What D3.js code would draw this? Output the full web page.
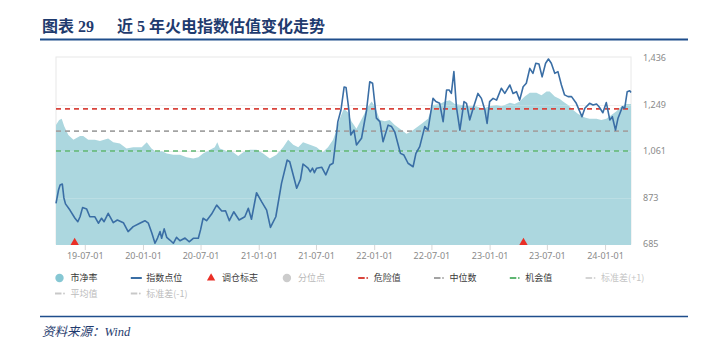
<!DOCTYPE html>
<html>
<head>
<meta charset="utf-8">
<script src="https://cdn.jsdelivr.net/npm/d3@7"></script>
<style>
  html, body { margin: 0; padding: 0; background: #fff; }
  svg { display: block; }
</style>
</head>
<body>
<svg id="chart" width="702" height="346"></svg>
<script>
// ---- data ----
// 市净率 (PB) of the thermal power index
const pbDates = [
  "2019-04-01","2019-04-11","2019-04-19","2019-04-27","2019-05-10","2019-05-26","2019-06-16","2019-06-26","2019-07-12","2019-08-02","2019-08-18","2019-09-13","2019-09-29","2019-10-20","2019-11-10","2019-12-01","2019-12-28",
  "2020-01-13","2020-01-28","2020-02-13","2020-02-29","2020-03-16","2020-04-06","2020-04-27","2020-05-18","2020-06-08","2020-06-24","2020-07-09","2020-07-31","2020-08-15","2020-08-23","2020-08-31","2020-09-21","2020-10-12","2020-10-28","2020-11-13","2020-12-04","2020-12-25",
  "2021-01-15","2021-02-05","2021-02-26","2021-03-19","2021-04-04","2021-04-20","2021-05-06","2021-05-21","2021-06-12","2021-07-03","2021-07-22","2021-08-08","2021-08-24","2021-09-04","2021-09-14","2021-09-27","2021-10-11","2021-10-21","2021-11-06","2021-11-27","2021-12-13","2021-12-24",
  "2022-01-03","2022-01-19","2022-02-04","2022-02-19","2022-03-07","2022-03-23","2022-04-13","2022-04-29","2022-05-15","2022-05-31","2022-06-20","2022-07-06","2022-07-27","2022-08-12","2022-08-28","2022-09-13","2022-10-04","2022-10-30","2022-11-20","2022-12-11",
  "2023-01-01","2023-01-23","2023-02-07","2023-02-18","2023-03-06","2023-03-21","2023-04-06","2023-04-22","2023-05-08","2023-05-29","2023-06-14","2023-06-30","2023-07-10","2023-07-26","2023-08-11","2023-08-21","2023-09-06","2023-09-22","2023-10-07","2023-10-29","2023-11-13","2023-12-05","2023-12-20",
  "2024-01-05","2024-01-21","2024-02-06","2024-02-22","2024-03-08","2024-03-23"
];
const pbValues = [
  1.46,1.50,1.51,1.45,1.38,1.34,1.37,1.37,1.34,1.34,1.33,1.35,1.32,1.31,1.27,1.28,1.28,
  1.32,1.27,1.24,1.25,1.23,1.22,1.22,1.20,1.19,1.20,1.23,1.26,1.28,1.32,1.27,1.25,1.24,1.21,1.24,1.26,1.26,
  1.23,1.19,1.22,1.28,1.34,1.30,1.28,1.32,1.30,1.28,1.24,1.28,1.34,1.42,1.51,1.59,1.56,1.49,1.43,1.53,1.61,1.65,
  1.61,1.50,1.49,1.50,1.46,1.43,1.39,1.41,1.44,1.47,1.51,1.62,1.63,1.65,1.66,1.63,1.62,1.61,1.61,1.59,
  1.61,1.62,1.61,1.62,1.64,1.63,1.65,1.69,1.72,1.72,1.70,1.73,1.73,1.69,1.67,1.65,1.62,1.58,1.55,1.52,1.51,1.51,1.50,
  1.51,1.54,1.57,1.61,1.63,1.63
];

// 指数点位 (index level)
const indexDates = [
  "2019-04-01","2019-04-09","2019-04-14","2019-04-21","2019-04-26","2019-05-01","2019-05-15","2019-05-31","2019-06-09","2019-06-16","2019-06-24","2019-07-07","2019-07-17","2019-08-02","2019-08-13","2019-08-23","2019-08-31","2019-09-13","2019-09-29","2019-10-12","2019-10-31","2019-11-15","2019-12-01","2019-12-22",
  "2020-01-07","2020-01-18","2020-01-29","2020-02-08","2020-02-16","2020-02-24","2020-02-29","2020-03-08","2020-03-16","2020-03-26","2020-04-06","2020-04-16","2020-04-27","2020-05-13","2020-05-26","2020-06-08","2020-06-24","2020-07-01","2020-07-09","2020-07-20","2020-08-05","2020-08-21","2020-09-06","2020-09-18","2020-09-30","2020-10-14","2020-10-31","2020-11-18","2020-11-29","2020-12-09","2020-12-25",
  "2021-01-10","2021-01-26","2021-02-07","2021-02-24","2021-03-14","2021-04-01","2021-04-09","2021-05-01","2021-05-13","2021-05-21","2021-06-06","2021-06-13","2021-06-20","2021-06-26","2021-07-03","2021-07-19","2021-08-01","2021-08-14","2021-08-24","2021-08-31","2021-09-08","2021-09-18","2021-09-28","2021-10-04","2021-10-13","2021-10-19","2021-10-29","2021-11-06","2021-11-22","2021-12-08","2021-12-18","2021-12-27",
  "2022-01-08","2022-01-19","2022-01-29","2022-02-14","2022-02-25","2022-03-07","2022-03-25","2022-04-05","2022-04-18","2022-05-04","2022-05-13","2022-05-25","2022-06-10","2022-06-20","2022-07-06","2022-07-15","2022-07-27","2022-08-07","2022-08-18","2022-08-26","2022-09-02","2022-09-10","2022-09-18","2022-09-29","2022-10-12","2022-10-20","2022-10-30","2022-11-10","2022-11-25","2022-12-06","2022-12-17","2022-12-24",
  "2023-01-01","2023-01-12","2023-01-23","2023-02-07","2023-02-18","2023-03-06","2023-03-16","2023-03-27","2023-04-06","2023-04-17","2023-04-27","2023-05-08","2023-05-18","2023-05-27","2023-06-06","2023-06-16","2023-06-27","2023-07-06","2023-07-15","2023-07-26","2023-08-05","2023-08-16","2023-08-26","2023-09-06","2023-09-17","2023-10-02","2023-10-20","2023-10-29","2023-11-13","2023-11-24","2023-12-05","2023-12-13","2023-12-25",
  "2024-01-05","2024-01-16","2024-01-24","2024-02-03","2024-02-11","2024-02-25","2024-03-03","2024-03-11","2024-03-19","2024-03-23"
];
const indexValues = [
  849,903,923,927,871,847,822,789,775,795,832,826,795,795,769,789,775,809,771,782,771,735,755,769,
  779,769,729,688,709,735,708,746,712,701,688,712,698,709,694,708,708,742,789,779,806,842,818,819,779,815,782,795,829,785,892,
  856,822,752,795,930,1024,1017,910,946,1008,991,976,991,973,991,995,964,1004,1011,1085,1178,1226,1319,1317,1226,1125,1145,1085,1112,1226,1340,1334,
  1193,1179,1098,1165,1159,1138,1051,1044,1011,997,1051,1078,1159,1145,1273,1260,1253,1179,1307,1307,1293,1381,1239,1145,1260,1253,1186,1233,1293,1273,1226,1172,
  1260,1273,1266,1314,1293,1327,1293,1300,1266,1320,1334,1394,1374,1415,1412,1360,1415,1432,1415,1374,1381,1327,1287,1280,1280,1253,1199,1233,1253,1246,1250,1239,1215,
  1256,1186,1199,1145,1193,1239,1233,1300,1304,1297
];

// 调仓标志 (rebalance signals)
const signalDates = ["2019-05-30", "2023-04-18"];

// PB reference levels: 危险值 / 中位数 / 机会值
const refNames  = ["危险值", "中位数", "机会值"];
const refValues = [1.59, 1.41, 1.25];

// axes
const xTickDates  = ["2019-07-01","2020-01-01","2020-07-01","2021-01-01","2021-07-01","2022-01-01","2022-07-01","2023-01-01","2023-07-01","2024-01-01"];
const xTickLabels = ["19-07-01","20-01-01","20-07-01","21-01-01","21-07-01","22-01-01","22-07-01","23-01-01","23-07-01","24-01-01"];
const yTickValues = [685, 872.75, 1060.5, 1248.25, 1436];
const yTickLabels = ["685", "873", "1,061", "1,249", "1,436"];
const xDomain = ["2019-04-01", "2024-03-23"];
const indexDomain = [685, 1436];
const pbDomain = [0.5, 2.0];

// legend entries
const legendRow1 = ["市净率", "指数点位", "调仓标志", "分位点", "危险值", "中位数", "机会值", "标准差(+1)"];
const legendRow2 = ["平均值", "标准差(-1)"];

// ---- drawing ----
const parse = d3.timeParse("%Y-%m-%d");
const svg = d3.select("#chart");

const plot = { left: 56, right: 631, top: 58, bottom: 244 };

const x = d3.scaleTime().domain(xDomain.map(parse)).range([plot.left, plot.right]);
const yIdx = d3.scaleLinear().domain(indexDomain).range([plot.bottom, plot.top]);
const yPb = d3.scaleLinear().domain(pbDomain).range([plot.bottom, plot.top]);

const pbSeries = pbDates.map((d, i) => ({ date: parse(d), v: pbValues[i] }));
const idxSeries = indexDates.map((d, i) => ({ date: parse(d), v: indexValues[i] }));

const NAVY = "#1f3b6e";
const CJK = "'Noto Sans CJK SC', 'Noto Sans', sans-serif";

// title
const title = svg.append("text")
  .attr("x", 42).attr("y", 32)
  .attr("fill", NAVY)
  .attr("font-family", "'Liberation Serif', 'Noto Sans CJK SC', serif")
  .attr("font-weight", "bold")
  .attr("font-size", 16);
title.append("tspan").text("图表 29");
title.append("tspan").attr("x", 117).text("近 5 年火电指数估值变化走势");

svg.append("line")
  .attr("x1", 40).attr("x2", 688).attr("y1", 39.5).attr("y2", 39.5)
  .attr("stroke", "#1f4e8c").attr("stroke-width", 2);

// frame
svg.append("rect")
  .attr("x", plot.left).attr("y", plot.top - 1)
  .attr("width", plot.right - plot.left).attr("height", plot.bottom - plot.top + 1)
  .attr("fill", "none").attr("stroke", "#e8e8e8");

// gridlines under area
svg.append("g").selectAll("line").data(yTickValues.slice(1, -1)).join("line")
  .attr("x1", plot.left).attr("x2", plot.right)
  .attr("y1", d => Math.round(yIdx(d)) + 0.5).attr("y2", d => Math.round(yIdx(d)) + 0.5)
  .attr("stroke", "#ececec");

// PB area
svg.append("path")
  .datum(pbSeries)
  .attr("fill", "#acd7df")
  .attr("d", d3.area().x(d => x(d.date)).y0(plot.bottom + 1).y1(d => yPb(d.v)));

// faint gridlines over area
svg.append("g").selectAll("line").data(yTickValues.slice(1, -1)).join("line")
  .attr("x1", plot.left).attr("x2", plot.right)
  .attr("y1", d => Math.round(yIdx(d)) + 0.5).attr("y2", d => Math.round(yIdx(d)) + 0.5)
  .attr("stroke", "#ffffff").attr("stroke-opacity", 0.18);

// reference lines
const refColor = { "危险值": "#d9443c", "中位数": "#a3a3a3", "机会值": "#5fb672" };
svg.append("g").selectAll("line").data(refNames).join("line")
  .attr("x1", plot.left).attr("x2", plot.right)
  .attr("y1", (d, i) => yPb(refValues[i])).attr("y2", (d, i) => yPb(refValues[i]))
  .attr("stroke", d => refColor[d])
  .attr("stroke-width", 1.6)
  .attr("stroke-dasharray", "5,4");

// index line
svg.append("path")
  .datum(idxSeries)
  .attr("fill", "none")
  .attr("stroke", "#3a6ea5")
  .attr("stroke-width", 1.6)
  .attr("stroke-linejoin", "round")
  .attr("d", d3.line().x(d => x(d.date)).y(d => yIdx(d.v)));

// rebalance markers
svg.append("g").selectAll("path").data(signalDates).join("path")
  .attr("transform", d => `translate(${x(parse(d))},${plot.bottom - 1.5})`)
  .attr("d", d3.symbol(d3.symbolTriangle, 30))
  .attr("fill", "#ea2f26");

// x axis
const xAxis = svg.append("g")
  .attr("transform", `translate(0,${plot.bottom + 1})`)
  .call(d3.axisBottom(x)
    .tickValues(xTickDates.map(parse))
    .tickFormat((d, i) => xTickLabels[i])
    .tickSize(5).tickPadding(3));
xAxis.select(".domain").remove();
xAxis.selectAll(".tick line").attr("stroke", "#d6d6d6");
xAxis.selectAll(".tick text")
  .attr("fill", "#8a8a8a").attr("font-size", 9)
  .attr("font-family", "'Noto Sans', 'DejaVu Sans', sans-serif");

// right axis
const yAxis = svg.append("g")
  .attr("transform", `translate(${plot.right},0)`)
  .call(d3.axisRight(yIdx)
    .tickValues(yTickValues)
    .tickFormat((d, i) => yTickLabels[i])
    .tickSize(0).tickPadding(12));
yAxis.select(".domain").remove();
yAxis.selectAll(".tick text")
  .attr("fill", "#8a8a8a").attr("font-size", 9)
  .attr("font-family", "'Noto Sans', 'DejaVu Sans', sans-serif");

// legend
const legendStyle = {
  "市净率":   { kind: "dot",  color: "#86c7d3", text: "#3a3a3a" },
  "指数点位": { kind: "line", color: "#3a6ea5", text: "#3a3a3a" },
  "调仓标志": { kind: "tri",  color: "#ea2f26", text: "#3a3a3a" },
  "分位点":   { kind: "dot",  color: "#cccccc", text: "#b8b8b8" },
  "危险值":   { kind: "dash", color: "#d9443c", text: "#3a3a3a" },
  "中位数":   { kind: "dash", color: "#a3a3a3", text: "#3a3a3a" },
  "机会值":   { kind: "dash", color: "#5fb672", text: "#3a3a3a" },
  "标准差(+1)": { kind: "dash", color: "#d4d4d4", text: "#c4c4c4" },
  "平均值":   { kind: "dash", color: "#c8c8c8", text: "#bcbcbc" },
  "标准差(-1)": { kind: "dash", color: "#c8c8c8", text: "#bcbcbc" }
};

function drawLegendRow(names, y) {
  names.forEach((name, i) => {
    const st = legendStyle[name];
    const x0 = 55 + i * 75.8;
    const g = svg.append("g").attr("transform", `translate(${x0},${y})`);
    if (st.kind === "dot") {
      g.append("circle").attr("cx", 4.5).attr("cy", 0).attr("r", 4.2).attr("fill", st.color);
    } else if (st.kind === "line") {
      g.append("line").attr("x1", 0).attr("x2", 11).attr("y1", 0).attr("y2", 0)
        .attr("stroke", st.color).attr("stroke-width", 2);
    } else if (st.kind === "tri") {
      g.append("path").attr("transform", "translate(4.5,0)")
        .attr("d", d3.symbol(d3.symbolTriangle, 30)).attr("fill", st.color);
    } else {
      g.append("line").attr("x1", 0).attr("x2", 6.5).attr("y1", 0).attr("y2", 0)
        .attr("stroke", st.color).attr("stroke-width", 2);
      g.append("circle").attr("cx", 9).attr("cy", 0).attr("r", 0.9).attr("fill", st.color);
    }
    g.append("text").attr("x", 15.5).attr("y", 0).attr("dy", "0.35em")
      .attr("fill", st.text).attr("font-size", 9).attr("font-family", CJK)
      .text(name);
  });
}
drawLegendRow(legendRow1, 278);
drawLegendRow(legendRow2, 293.5);

// footer
svg.append("line")
  .attr("x1", 40).attr("x2", 688).attr("y1", 316.5).attr("y2", 316.5)
  .attr("stroke", "#1f4e8c").attr("stroke-width", 1.5);
svg.append("text")
  .attr("x", 42).attr("y", 336)
  .attr("fill", NAVY)
  .attr("font-family", "'Liberation Serif', 'Noto Sans CJK SC', serif")
  .attr("font-style", "italic")
  .attr("font-size", 12.5)
  .text("资料来源：Wind");
</script>
</body>
</html>
